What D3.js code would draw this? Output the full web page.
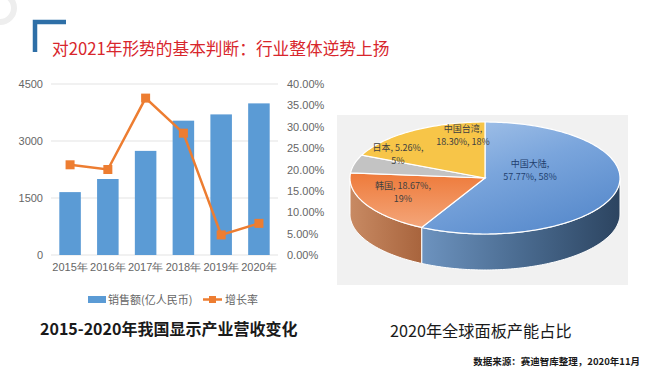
<!DOCTYPE html>
<html>
<head>
<meta charset="utf-8">
<script src="https://cdn.jsdelivr.net/npm/d3@7"></script>
<style>
  body { margin: 0; background: #fff; }
  svg { display: block; font-family: "Noto Sans CJK SC", "Noto Sans", sans-serif; }
</style>
</head>
<body>
<div id="container"></div>
<script>
/* DATA */
const years = ["2015年", "2016年", "2017年", "2018年", "2019年", "2020年"];
const sales = [1655, 2000, 2740, 3535, 3700, 3990];       // 销售额(亿人民币)
const growth = [0.211, 0.200, 0.367, 0.285, 0.047, 0.074]; // 增长率
const leftTicks = [0, 1500, 3000, 4500];
const rightTicks = [0, 0.05, 0.10, 0.15, 0.20, 0.25, 0.30, 0.35, 0.40];

const regions = ["中国大陆", "韩国", "日本", "中国台湾"];
const shares = [57.77, 18.67, 5.26, 18.30];
const rounded = ["58%", "19%", "5%", "18%"];

/* CONSTANTS */
const width = 650, height = 380;
const svg = d3.select("#container").append("svg")
  .attr("width", width)
  .attr("height", height);

const defs = svg.append("defs");

// faint background mark (watermark ring)
svg.append("circle").attr("cx", 0).attr("cy", 8).attr("r", 14)
  .attr("fill", "none").attr("stroke", "#eeeeee").attr("stroke-width", 6);

/* HEADER */
svg.append("path")
  .attr("d", "M35,52 V22 H66")
  .attr("fill", "none")
  .attr("stroke", "#2e6fa7")
  .attr("stroke-width", 4.5);
svg.append("text")
  .attr("x", 52).attr("y", 55)
  .attr("font-size", 16.7)
  .attr("fill", "#d8262c")
  .text("对2021年形势的基本判断：行业整体逆势上扬");

/* LEFT CHART */
const margin = { top: 84, bottom: 255, left: 51, right: 278 };

const xScale = d3.scaleBand()
  .domain(years)
  .range([margin.left, margin.right])
  .paddingInner(0.43)
  .paddingOuter(0.22);

const yScale = d3.scaleLinear()
  .domain([0, 4500])
  .range([margin.bottom, margin.top]);

const y2Scale = d3.scaleLinear()
  .domain([0, 0.40])
  .range([margin.bottom, margin.top]);

// gridlines
svg.append("g")
  .selectAll("line")
  .data(leftTicks)
  .join("line")
  .attr("x1", margin.left).attr("x2", margin.right)
  .attr("y1", d => yScale(d)).attr("y2", d => yScale(d))
  .attr("stroke", "#e3e3e3");

const yAxis = d3.axisLeft(yScale).tickValues(leftTicks).tickSize(0).tickPadding(8)
  .tickFormat(d3.format("d"));
svg.append("g")
  .attr("transform", `translate(${margin.left},0)`)
  .call(yAxis)
  .call(g => g.select(".domain").remove())
  .selectAll("text").attr("font-size", 11).attr("fill", "#666").attr("font-family", "Liberation Sans, Arial");

const y2Axis = d3.axisRight(y2Scale).tickValues(rightTicks).tickSize(0).tickPadding(9)
  .tickFormat(d3.format(".2%"));
svg.append("g")
  .attr("transform", `translate(${margin.right},0)`)
  .call(y2Axis)
  .call(g => g.select(".domain").remove())
  .selectAll("text").attr("font-size", 11).attr("fill", "#666").attr("font-family", "Liberation Sans, Arial");

const xAxis = d3.axisBottom(xScale).tickSize(0).tickPadding(8);
svg.append("g")
  .attr("transform", `translate(0,${margin.bottom})`)
  .call(xAxis)
  .call(g => g.select(".domain").remove())
  .selectAll("text").attr("font-size", 11).attr("fill", "#666");

// bars
svg.append("g")
  .selectAll("rect")
  .data(sales)
  .join("rect")
  .attr("x", (d, i) => xScale(years[i]))
  .attr("y", d => yScale(d))
  .attr("width", xScale.bandwidth())
  .attr("height", d => yScale(0) - yScale(d))
  .attr("fill", "#5b9bd5");

// growth line
const line = d3.line()
  .x((d, i) => xScale(years[i]) + xScale.bandwidth() / 2)
  .y(d => y2Scale(d));
svg.append("path")
  .datum(growth)
  .attr("d", line)
  .attr("fill", "none")
  .attr("stroke", "#ed7d31")
  .attr("stroke-width", 2.5);
svg.append("g")
  .selectAll("rect")
  .data(growth)
  .join("rect")
  .attr("x", (d, i) => xScale(years[i]) + xScale.bandwidth() / 2 - 4.5)
  .attr("y", d => y2Scale(d) - 4.5)
  .attr("width", 9).attr("height", 9)
  .attr("fill", "#ed7d31");

// legend
const legend = svg.append("g").attr("font-size", 11).attr("fill", "#666");
legend.append("rect").attr("x", 88).attr("y", 296).attr("width", 18).attr("height", 7).attr("fill", "#5b9bd5");
legend.append("text").attr("x", 108).attr("y", 304).attr("fill", "#666").text("销售额(亿人民币)");
legend.append("line").attr("x1", 203).attr("x2", 222).attr("y1", 299.5).attr("y2", 299.5).attr("stroke", "#ed7d31").attr("stroke-width", 2.5);
legend.append("rect").attr("x", 209).attr("y", 296).attr("width", 7).attr("height", 7).attr("fill", "#ed7d31");
legend.append("text").attr("x", 225).attr("y", 304).attr("fill", "#666").text("增长率");

svg.append("text")
  .attr("x", 40).attr("y", 335)
  .attr("font-size", 16).attr("font-weight", "bold").attr("fill", "#1a1a1a")
  .text("2015-2020年我国显示产业营收变化");

/* RIGHT CHART: 3D PIE */
svg.append("rect")
  .attr("x", 337).attr("y", 115).attr("width", 291).attr("height", 170)
  .attr("fill", "#f1f1f1");

const cx = 485, cy = 178, rx = 135, ry = 56, depth = 36;
const topColors = ["url(#gBlueTop)", "url(#gOrangeTop)", "#c3c3c3", "#f7c548"];
const sideColors = ["url(#gBlueSide)", "url(#gOrangeSide)", "#8f8f8f", "#b8902a"];

function grad(id, stops, x2, y2) {
  const g = defs.append("linearGradient").attr("id", id)
    .attr("x1", 0).attr("y1", 0).attr("x2", x2).attr("y2", y2);
  stops.forEach((c, i) => g.append("stop").attr("offset", i / (stops.length - 1)).attr("stop-color", c));
}
grad("gBlueTop", ["#a9c6ea", "#7aa5dc", "#5a8ccd"], 0.6, 1);
grad("gBlueSide", ["#6d93bf", "#4a6b90", "#2c4460"], 1, 0);
grad("gOrangeTop", ["#ee7a3a", "#f4a67a"], 0, 1);
grad("gOrangeSide", ["#c88a63", "#a8643d"], 1, 0);

const pie = d3.pie().sort(null).value(d => d);
const arcs = pie(shares);

const px = (a, dy = 0) => [cx + rx * Math.sin(a), cy - ry * Math.cos(a) + dy];

function topPath(d) {
  const pts = d3.range(d.startAngle, d.endAngle, 0.02).concat([d.endAngle]).map(a => px(a));
  return "M" + cx + "," + cy + "L" + pts.map(p => p.join(",")).join("L") + "Z";
}
function sidePath(d) {
  const a0 = Math.max(d.startAngle, Math.PI / 2), a1 = Math.min(d.endAngle, Math.PI * 1.5);
  if (a1 <= a0) return null;
  const pts = d3.range(a0, a1, 0.02).concat([a1]);
  const upper = pts.map(a => px(a));
  const lower = pts.slice().reverse().map(a => px(a, depth));
  return "M" + upper.concat(lower).map(p => p.join(",")).join("L") + "Z";
}

svg.append("g")
  .selectAll("path")
  .data(arcs.filter(d => sidePath(d)))
  .join("path")
  .attr("d", sidePath)
  .attr("fill", d => sideColors[d.index])
  .attr("stroke", "#fff").attr("stroke-width", 1);

svg.append("g")
  .selectAll("path")
  .data(arcs)
  .join("path")
  .attr("d", topPath)
  .attr("fill", d => topColors[d.index])
  .attr("stroke", "#fff").attr("stroke-width", 1.2);

// pie labels
const labelPos = [[530, 167], [403, 189], [398, 151], [463, 132]];
const pieLabels = svg.append("g").attr("font-size", 9).attr("text-anchor", "middle")
  .attr("font-family", "Noto Sans CJK SC");
regions.forEach((r, i) => {
  const [lx, ly] = labelPos[i];
  const col = i === 0 ? "#1f3f6e" : "#404040";
  const t = pieLabels.append("text").attr("x", lx).attr("y", ly).attr("fill", col);
  if (i === 0 || i === 3) {
    t.append("tspan").attr("x", lx).text(r + ",");
    t.append("tspan").attr("x", lx).attr("dy", 13).text(d3.format(".2f")(shares[i]) + "%, " + rounded[i]);
  } else {
    t.append("tspan").attr("x", lx).text(r + ", " + d3.format(".2f")(shares[i]) + "%,");
    t.append("tspan").attr("x", lx).attr("dy", 13).text(rounded[i]);
  }
});

svg.append("text")
  .attr("x", 390).attr("y", 337)
  .attr("font-size", 16.2).attr("fill", "#1a1a1a")
  .text("2020年全球面板产能占比");

svg.append("text")
  .attr("x", 640).attr("y", 365)
  .attr("text-anchor", "end")
  .attr("font-size", 9.5).attr("font-weight", "bold").attr("fill", "#1a1a1a")
  .text("数据来源：赛迪智库整理，2020年11月");
</script>
</body>
</html>
